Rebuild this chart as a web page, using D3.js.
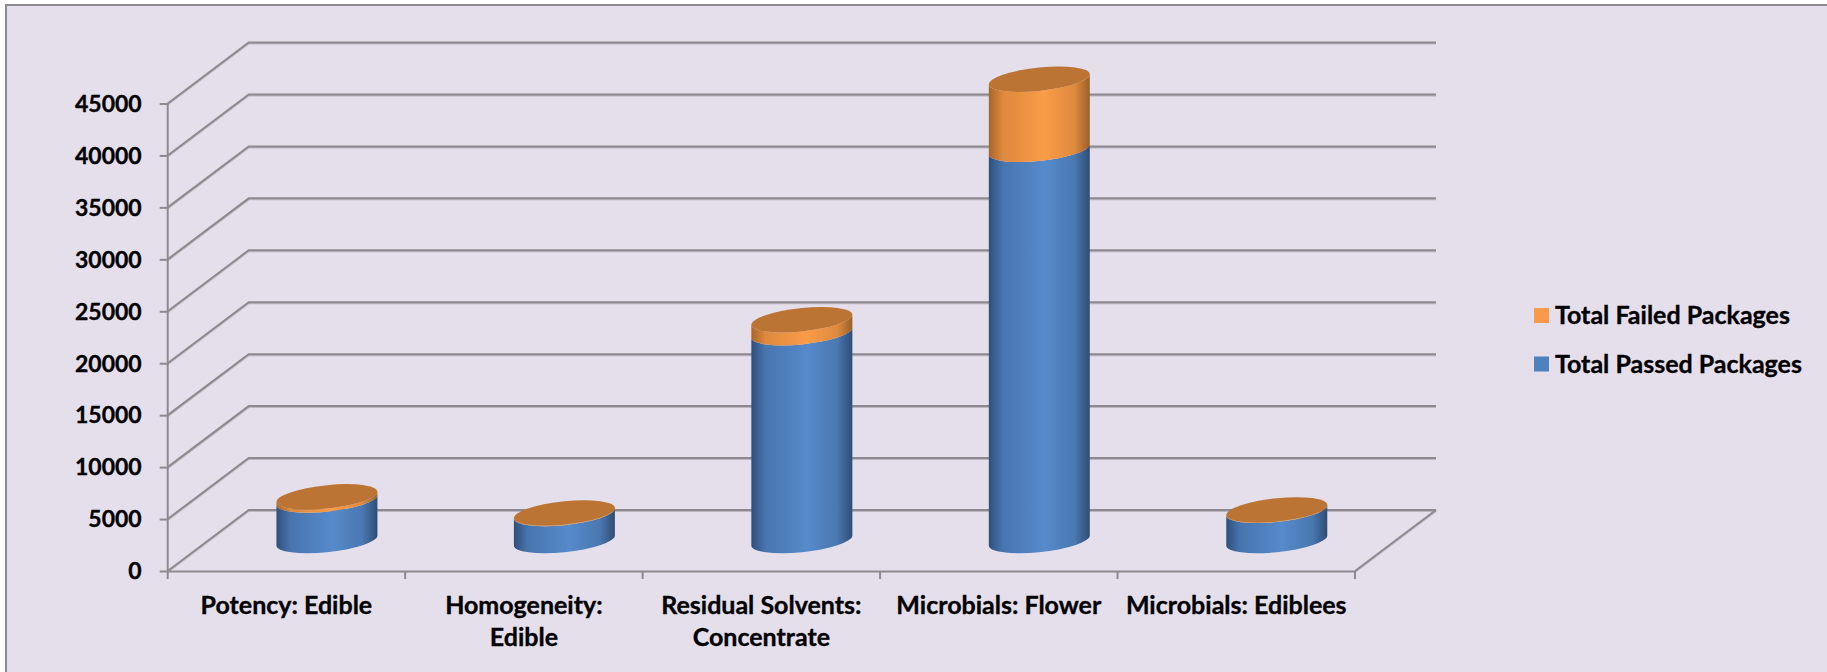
<!DOCTYPE html>
<html>
<head>
<meta charset="utf-8">
<script src="https://cdn.jsdelivr.net/npm/d3@7"></script>
<style>
  html, body { margin: 0; padding: 0; background: #fff; }
  svg { display: block; }
  text { font-family: Lato, "Open Sans", sans-serif; font-weight: 700; fill: #000; stroke: #000; stroke-width: 0.35px; }
  .domain, .tick line, .wall { stroke: #8c8a8e; stroke-width: 2; fill: none; }
</style>
</head>
<body>
<svg id="chart" width="1827" height="672"></svg>
<script>
// values
const categories = [
  'Potency: Edible',
  'Homogeneity:\nEdible',
  'Residual Solvents:\nConcentrate',
  'Microbials: Flower',
  'Microbials: Ediblees'
];
const passed = [3900, 2600, 20000, 37650, 2900];
const failed = [300, 50, 1250, 6750, 40];
const yTicks = d3.range(0, 45001, 5000);
const legendLabels = ['Total Failed Packages', 'Total Passed Packages'];

const width = 1827;
const height = 672;
const tickFontSize = 23;
const labelFontSize = 25;
const depthX = 81;
const depthY = 61;
const radiusX = 50.5;
const radiusY = 11.7;
const tilt = 0.1;

const svg = d3.select('#chart');

const x = d3.scaleBand().domain(categories).range([167.7, 1355]);
const y = d3.scaleLinear().domain([0, 45000]).range([571, 103.5]);

svg.append('rect')
  .attr('x', 6)
  .attr('y', 5)
  .attr('width', width)
  .attr('height', height)
  .attr('fill', '#e5dfec')
  .attr('stroke', '#8c8a8e')
  .attr('stroke-width', 2);

const defs = svg.append('defs');

function sideGradient (id, edgeL, mid, edgeR) {
  const grad = defs.append('linearGradient').attr('id', id);
  [[0, edgeL], [0.14, d3.interpolateRgb(edgeL, mid)(0.65)], [0.55, mid], [0.85, d3.interpolateRgb(edgeR, mid)(0.7)], [1, edgeR]]
    .forEach(s => {
      grad.append('stop').attr('offset', s[0]).attr('stop-color', s[1]);
    });
}
sideGradient('blueSide', '#2f4f7c', '#568acb', '#2f4d75');
sideGradient('orangeSide', '#a7662a', '#fb9c48', '#9a5f28');

// walls and floor
const walls = svg.append('g')
  .attr('fill', 'none')
  .style('filter', 'drop-shadow(0 1px 0.6px rgba(0,0,0,0.18))');

walls.selectAll('path.grid')
  .data(yTicks)
  .enter()
  .append('path')
  .attr('class', 'wall grid')
  .attr('d', d => {
    const p = d3.path();
    p.moveTo(x.range()[0], y(d));
    p.lineTo(x.range()[0] + depthX, y(d) - depthY);
    p.lineTo(x.range()[1] + depthX, y(d) - depthY);
    return p.toString();
  });

walls.append('path')
  .attr('class', 'wall')
  .attr('d', () => {
    const p = d3.path();
    p.moveTo(x.range()[1] + depthX, y(0) - depthY);
    p.lineTo(x.range()[1], y(0));
    return p.toString();
  });

// axes
const yAxis = svg.append('g')
  .attr('transform', `translate(${x.range()[0]},0)`)
  .call(d3.axisLeft(y).tickValues(yTicks).tickFormat(d3.format('d')).tickSize(8).tickSizeOuter(0).tickPadding(18));

yAxis.selectAll('text').style('font-size', tickFontSize + 'px').attr('dy', '0.34em');
yAxis.select('.domain').attr('d', `M0,${y(45000)}V${y(0) + 8}`);

const xAxis = svg.append('g')
  .attr('transform', `translate(0,${y(0)})`)
  .call(d3.axisBottom(x).tickSize(0).tickSizeOuter(0).tickFormat(''));

xAxis.selectAll('.tick').remove();

xAxis.selectAll('line.edge')
  .data(categories)
  .enter()
  .append('line')
  .attr('class', 'edge')
  .attr('stroke', '#8c8a8e')
  .attr('stroke-width', 2)
  .attr('x1', d => x(d) + x.bandwidth())
  .attr('x2', d => x(d) + x.bandwidth())
  .attr('y1', 0)
  .attr('y2', 8);

xAxis.selectAll('text.cat')
  .data(categories)
  .enter()
  .append('text')
  .attr('class', 'cat')
  .attr('text-anchor', 'middle')
  .style('font-size', labelFontSize + 'px')
  .each(function (d) {
    d.split('\n').forEach((line, i) => {
      d3.select(this)
        .append('tspan')
        .attr('x', x(d) + x.bandwidth() / 2)
        .attr('y', 43 + i * 32)
        .text(line);
    });
  });

// cylinders, sheared so the ellipses tilt up to the right
const bars = svg.selectAll('g.bar')
  .data(categories)
  .enter()
  .append('g')
  .attr('class', 'bar')
  .attr('transform', d => {
    const cx = x(d) + x.bandwidth() / 2 + depthX / 2;
    return `matrix(1,${-tilt},0,1,${cx},${-depthY / 2})`;
  });

function sidePath (y0, y1) {
  return `M${-radiusX},${y1}V${y0}A${radiusX},${radiusY} 0 0 0 ${radiusX},${y0}` +
    `V${y1}A${radiusX},${radiusY} 0 0 1 ${-radiusX},${y1}Z`;
}

bars.append('path')
  .attr('fill', 'url(#blueSide)')
  .attr('d', (d, i) => sidePath(y(0), y(passed[i])));

bars.append('path')
  .attr('fill', 'url(#orangeSide)')
  .attr('d', (d, i) => sidePath(y(passed[i]), y(passed[i] + failed[i])));

bars.append('ellipse')
  .attr('fill', '#bc7434')
  .attr('rx', radiusX)
  .attr('ry', radiusY)
  .attr('cy', (d, i) => y(passed[i] + failed[i]));

// legend
const legend = svg.selectAll('g.legend')
  .data(legendLabels)
  .enter()
  .append('g')
  .attr('class', 'legend')
  .attr('transform', (d, i) => `translate(1534,${308 + i * 48.5})`);

legend.append('rect')
  .attr('width', 15)
  .attr('height', 15)
  .attr('fill', (d, i) => ['#f99a4a', '#4f81bd'][i]);

legend.append('text')
  .attr('x', 21)
  .attr('y', 16)
  .style('font-size', labelFontSize + 'px')
  .text(d => d);
</script>
</body>
</html>
